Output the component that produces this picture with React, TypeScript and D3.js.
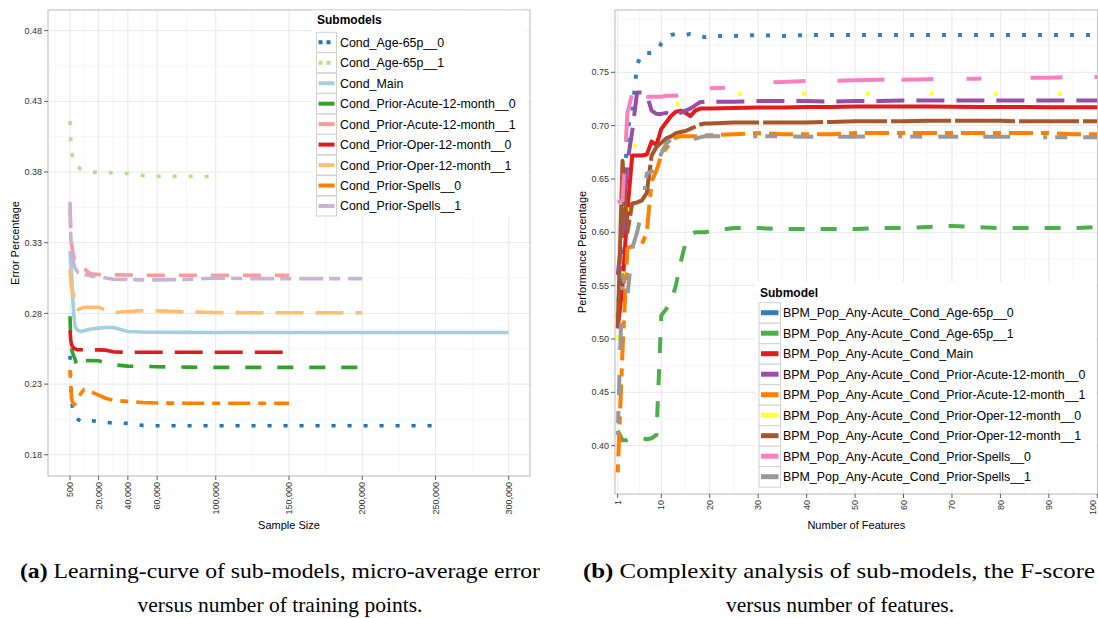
import React from 'react';
import * as d3 from 'd3';

// ---------- Left chart data (learning curve) ----------
const sampleSizes = [500, 1000, 1500, 2000, 3000, 4000, 5000, 6000, 8000, 10000, 12500, 15000, 20000, 25000, 30000, 40000, 50000, 60000, 80000, 100000, 125000, 150000, 175000, 200000, 225000, 250000, 275000, 300000];

const errAge0 = [0.25, 0.232, 0.222, 0.215, 0.209, 0.207, 0.206, 0.205, 0.2035, 0.204, 0.2042, 0.204, 0.2038, 0.203, 0.2025, 0.2022, 0.2008, 0.2005, 0.2005, 0.2005, 0.2005, 0.2005, 0.2005, 0.2005, 0.2005, 0.2005];
const errAge1 = [0.416, 0.403, 0.396, 0.392, 0.387, 0.385, 0.384, 0.3835, 0.382, 0.381, 0.3805, 0.38, 0.3798, 0.3797, 0.3795, 0.379, 0.3775, 0.377, 0.377, 0.3768];
const errMain = [0.324, 0.316, 0.309, 0.298, 0.28, 0.2705, 0.269, 0.268, 0.2672, 0.2678, 0.2685, 0.269, 0.2696, 0.27, 0.27, 0.2672, 0.2668, 0.2667, 0.2666, 0.2665, 0.2665, 0.2665, 0.2665, 0.2665, 0.2665, 0.2665, 0.2665, 0.2665];
const errAcute0 = [0.278, 0.262, 0.256, 0.253, 0.25, 0.2475, 0.2435, 0.2415, 0.244, 0.2465, 0.2466, 0.2466, 0.2465, 0.245, 0.2437, 0.2427, 0.2425, 0.2423, 0.242, 0.2418, 0.2418, 0.2418, 0.2418, 0.2418];
const errAcute1 = [0.353, 0.34, 0.33, 0.326, 0.32, 0.3167, 0.316, 0.3155, 0.3145, 0.312, 0.3095, 0.308, 0.3075, 0.3073, 0.3073, 0.3072, 0.307, 0.307, 0.307, 0.307, 0.307, 0.307];
const errOper0 = [0.268, 0.261, 0.258, 0.257, 0.2555, 0.255, 0.2545, 0.2543, 0.2543, 0.2543, 0.2543, 0.2542, 0.2542, 0.254, 0.2528, 0.2525, 0.2525, 0.2525, 0.2525, 0.2525, 0.2525, 0.2525];
const errOper1 = [0.311, 0.303, 0.299, 0.296, 0.293, 0.29, 0.2884, 0.2828, 0.2835, 0.2843, 0.2844, 0.2844, 0.2844, 0.282, 0.2805, 0.2813, 0.282, 0.2818, 0.281, 0.2806, 0.2805, 0.2805, 0.2805, 0.2805];
const errSpells0 = [0.24, 0.229, 0.221, 0.218, 0.2155, 0.216, 0.2178, 0.22, 0.2235, 0.2262, 0.2255, 0.2245, 0.2222, 0.22, 0.2185, 0.2178, 0.217, 0.2166, 0.2165, 0.2165, 0.2165, 0.2165];
const errSpells1 = [0.359, 0.335, 0.325, 0.32, 0.315, 0.312, 0.3105, 0.309, 0.3085, 0.308, 0.307, 0.3065, 0.306, 0.305, 0.3042, 0.304, 0.3037, 0.3037, 0.304, 0.305, 0.3046, 0.3046, 0.3046, 0.3046];

const leftNames = ['Cond_Age-65p__0', 'Cond_Age-65p__1', 'Cond_Main', 'Cond_Prior-Acute-12-month__0', 'Cond_Prior-Acute-12-month__1', 'Cond_Prior-Oper-12-month__0', 'Cond_Prior-Oper-12-month__1', 'Cond_Prior-Spells__0', 'Cond_Prior-Spells__1'];
const leftValues = [errAge0, errAge1, errMain, errAcute0, errAcute1, errOper0, errOper1, errSpells0, errSpells1];
const leftColors = ['#1f78b4', '#b2df8a', '#a6cee3', '#33a02c', '#fb9a99', '#e31a1c', '#fdbf6f', '#ff7f00', '#cab2d6'];
const leftDashes = ['4 12', '4 12', 'none', '16 16', '18 14', '28 12', '28 12', '8 8 22 8', '24 6 11 8'];

const sampleTicks = [500, 20000, 40000, 60000, 100000, 150000, 200000, 250000, 300000];
const errorTicks = [0.18, 0.23, 0.28, 0.33, 0.38, 0.43, 0.48];

// ---------- Right chart data (complexity analysis) ----------
const featureCounts = [1, 2, 3, 4, 5, 6, 7, 8, 9, 10, 11, 12, 13, 14, 15, 16, 17, 18, 19, 20, 25, 30, 35, 40, 45, 50, 55, 60, 65, 70, 75, 80, 85, 90, 95, 100];

const fAge0 = [0.52, 0.6, 0.697, 0.712, 0.757, 0.768, 0.768, 0.768, 0.769, 0.777, 0.781, 0.785, 0.786, 0.786, 0.785, 0.786, 0.785, 0.784, 0.783, 0.784, 0.784, 0.785, 0.784, 0.785, 0.785, 0.785, 0.785, 0.785, 0.785, 0.785, 0.785, 0.785, 0.785, 0.785, 0.785, 0.785];
const fAge1 = [0.414, 0.405, 0.405, 0.406, 0.407, 0.407, 0.406, 0.407, 0.41, 0.522, 0.528, 0.535, 0.55, 0.572, 0.59, 0.598, 0.6, 0.6, 0.6, 0.601, 0.604, 0.604, 0.603, 0.603, 0.603, 0.603, 0.604, 0.604, 0.605, 0.606, 0.605, 0.604, 0.604, 0.604, 0.604, 0.605];
const fMain = [0.51, 0.55, 0.62, 0.672, 0.672, 0.672, 0.673, 0.685, 0.682, 0.697, 0.703, 0.709, 0.713, 0.714, 0.712, 0.709, 0.714, 0.716, 0.716, 0.716, 0.7165, 0.717, 0.717, 0.7175, 0.7175, 0.718, 0.718, 0.718, 0.718, 0.7178, 0.7175, 0.7175, 0.7175, 0.7172, 0.7172, 0.7172];
const fAcute0 = [0.56, 0.6, 0.665, 0.695, 0.731, 0.731, 0.729, 0.714, 0.711, 0.711, 0.712, 0.71, 0.712, 0.712, 0.714, 0.716, 0.719, 0.722, 0.7225, 0.7225, 0.7225, 0.723, 0.723, 0.723, 0.7225, 0.723, 0.723, 0.7235, 0.7235, 0.7235, 0.7235, 0.7235, 0.7235, 0.7235, 0.7235, 0.7235];
const fAcute1 = [0.375, 0.49, 0.585, 0.587, 0.587, 0.589, 0.6, 0.648, 0.658, 0.672, 0.679, 0.684, 0.689, 0.69, 0.69, 0.69, 0.69, 0.69, 0.691, 0.691, 0.692, 0.693, 0.692, 0.692, 0.692, 0.693, 0.693, 0.693, 0.693, 0.693, 0.693, 0.693, 0.693, 0.693, 0.692, 0.692];
const fOper0 = [0.5, 0.557, 0.62, 0.672, 0.69, 0.7, 0.705, 0.709, 0.712, 0.714, 0.716, 0.718, 0.72, 0.722, 0.724, 0.726, 0.727, 0.728, 0.729, 0.73, 0.73, 0.73, 0.73, 0.73, 0.73, 0.73, 0.73, 0.73, 0.73, 0.73, 0.73, 0.73, 0.73, 0.73, 0.73, 0.73];
const fOper1 = [0.51, 0.667, 0.6, 0.627, 0.628, 0.63, 0.637, 0.672, 0.68, 0.684, 0.688, 0.69, 0.693, 0.694, 0.695, 0.697, 0.699, 0.701, 0.702, 0.702, 0.703, 0.703, 0.703, 0.703, 0.7035, 0.704, 0.704, 0.704, 0.7045, 0.7045, 0.7045, 0.7045, 0.704, 0.704, 0.704, 0.704];
const fSpells0 = [0.628, 0.63, 0.712, 0.73, 0.731, 0.728, 0.727, 0.727, 0.727, 0.727, 0.728, 0.728, 0.728, 0.729, 0.729, 0.73, 0.732, 0.734, 0.735, 0.735, 0.736, 0.74, 0.741, 0.742, 0.742, 0.7425, 0.743, 0.743, 0.7435, 0.744, 0.744, 0.7445, 0.745, 0.745, 0.7455, 0.7455];
const fSpells1 = [0.41, 0.56, 0.54, 0.585, 0.6, 0.62, 0.655, 0.657, 0.66, 0.674, 0.683, 0.687, 0.69, 0.69, 0.69, 0.687, 0.688, 0.689, 0.69, 0.69, 0.69, 0.69, 0.69, 0.6895, 0.6895, 0.6895, 0.69, 0.69, 0.6895, 0.6895, 0.6895, 0.6895, 0.6895, 0.689, 0.689, 0.689];

const rightNames = ['BPM_Pop_Any-Acute_Cond_Age-65p__0', 'BPM_Pop_Any-Acute_Cond_Age-65p__1', 'BPM_Pop_Any-Acute_Cond_Main', 'BPM_Pop_Any-Acute_Cond_Prior-Acute-12-month__0', 'BPM_Pop_Any-Acute_Cond_Prior-Acute-12-month__1', 'BPM_Pop_Any-Acute_Cond_Prior-Oper-12-month__0', 'BPM_Pop_Any-Acute_Cond_Prior-Oper-12-month__1', 'BPM_Pop_Any-Acute_Cond_Prior-Spells__0', 'BPM_Pop_Any-Acute_Cond_Prior-Spells__1'];
const rightValues = [fAge0, fAge1, fMain, fAcute0, fAcute1, fOper0, fOper1, fSpells0, fSpells1];
const rightColors = ['#377eb8', '#4daf4a', '#e41a1c', '#984ea3', '#ff7f00', '#ffff33', '#a65628', '#f781bf', '#999999'];
const rightDashes = ['4 12', '16 16', 'none', '28 12', '8 8 24 8', '4 60', '60 4', '32 32 47 17 32 33 15 49', '4 8 12 16 20 25 27 33'];

const featureTicks = [1, 10, 20, 30, 40, 50, 60, 70, 80, 90, 100];
const perfTicks = [0.4, 0.45, 0.5, 0.55, 0.6, 0.65, 0.7, 0.75];

const captionA1 = 'Learning-curve of sub-models, micro-average error';
const captionA2 = 'versus number of training points.';
const captionB1 = 'Complexity analysis of sub-models, the F-score';
const captionB2 = 'versus number of features.';

const FONT = "'Liberation Sans', Arial, Helvetica, sans-serif";
const SERIF = "'Liberation Serif', 'DejaVu Serif', serif";

function midpoints(arr: number[]) {
  const out: number[] = [];
  for (let i = 0; i < arr.length - 1; i++) out.push((arr[i] + arr[i + 1]) / 2);
  return out;
}

export default function App() {
  const W = 1098, H = 618;

  const xL = d3.scaleLinear().domain([-14520, 314540]).range([48, 530]);
  const yL = d3.scaleLinear().domain([0.165, 0.4946]).range([476, 10]);
  const xR = d3.scaleLinear().domain([0.443, 100.08]).range([615, 1097.7]);
  const yR = d3.scaleLinear().domain([0.3547, 0.8084]).range([494, 10]);

  const fmt = d3.format(',');
  const fmt2 = d3.format('.2f');

  const leftMinorX = [sampleTicks[0] - (sampleTicks[1] - sampleTicks[0]) / 2, ...midpoints(sampleTicks)];
  const leftMinorY = midpoints(errorTicks);
  const rightMinorX = midpoints(featureTicks);
  const rightMinorY = [...midpoints(perfTicks), 0.775, 0.8];

  const lineL = (vals: number[]) =>
    d3.line<number>().x((_, i) => xL(sampleSizes[i])).y((d) => yL(d))(vals) || '';
  const lineR = (vals: number[]) =>
    d3.line<number>().x((_, i) => xR(featureCounts[i])).y((d) => yR(d))(vals) || '';

  const [lx0, lx1] = xL.range();
  const [ly1, ly0] = yL.range();
  const [rx0, rx1] = xR.range();
  const [ry1, ry0] = yR.range();

  const majorGrid = '#e8e8e8';
  const minorGrid = '#f4f4f4';
  const border = '#c4c4c4';
  const tickCol = '#333333';

  const lLegX = 316.5, lLegY0 = 42.3, lLegStep = 20.46;
  const rLegX = 759, rLegY0 = 312.7, rLegStep = 20.5;
  const legFont = 12.4;

  return (
    <svg width={W} height={H} style={{ position: 'absolute', left: 0, top: 0, background: '#fff' }} fontFamily={FONT}>
      <rect x={0} y={0} width={W} height={H} fill="#fff" />

      {/* ================= LEFT PANEL ================= */}
      <g>
        {leftMinorY.map((v) => (
          <line key={'lmy' + v} x1={lx0} x2={lx1} y1={yL(v)} y2={yL(v)} stroke={minorGrid} strokeWidth={0.8} />
        ))}
        {leftMinorX.map((v) => (
          <line key={'lmx' + v} x1={xL(v)} x2={xL(v)} y1={ly0} y2={ly1} stroke={minorGrid} strokeWidth={0.8} />
        ))}
        {errorTicks.map((v) => (
          <line key={'lgy' + v} x1={lx0} x2={lx1} y1={yL(v)} y2={yL(v)} stroke={majorGrid} strokeWidth={1} />
        ))}
        {sampleTicks.map((v) => (
          <line key={'lgx' + v} x1={xL(v)} x2={xL(v)} y1={ly0} y2={ly1} stroke={majorGrid} strokeWidth={1} />
        ))}

        {leftValues.map((vals, i) => (
          <path key={'ls' + i} d={lineL(vals)} fill="none" stroke={leftColors[i]} strokeWidth={3.6}
            strokeDasharray={leftDashes[i]} strokeLinecap="butt" strokeLinejoin="round" />
        ))}

        <rect x={lx0} y={ly0} width={lx1 - lx0} height={ly1 - ly0} fill="none" stroke={border} strokeWidth={1.2} />

        {errorTicks.map((v) => (
          <g key={'lyt' + v}>
            <line x1={lx0 - 4} x2={lx0} y1={yL(v)} y2={yL(v)} stroke={tickCol} strokeWidth={0.8} />
            <text x={lx0 - 6} y={yL(v)} dy="0.35em" textAnchor="end" fontSize={9} fill={tickCol}>{fmt2(v)}</text>
          </g>
        ))}
        {sampleTicks.map((v) => (
          <g key={'lxt' + v}>
            <line x1={xL(v)} x2={xL(v)} y1={ly1} y2={ly1 + 4} stroke={tickCol} strokeWidth={0.8} />
            <text transform={`translate(${xL(v)},${ly1 + 6}) rotate(-90)`} dy="0.35em" textAnchor="end" fontSize={9} fill={tickCol}>{fmt(v)}</text>
          </g>
        ))}
        <text x={(lx0 + lx1) / 2} y={529} textAnchor="middle" fontSize={11} fill="#000">Sample Size</text>
        <text transform={`translate(19,${(ly0 + ly1) / 2}) rotate(-90)`} textAnchor="middle" fontSize={11} fill="#000">Error Percentage</text>

        <rect x={312} y={10.5} width={215} height={206} fill="#fff" />
        <text x={317} y={24} fontSize={12} fontWeight="bold" fill="#000">Submodels</text>
        {leftNames.map((n, i) => {
          const cy = lLegY0 + i * lLegStep;
          return (
            <g key={'ll' + i}>
              <rect x={lLegX} y={cy - 10} width={20} height={20} fill="#fff" stroke="#d0d0d0" strokeWidth={1} />
              <line x1={lLegX + 2} x2={lLegX + 18} y1={cy} y2={cy} stroke={leftColors[i]} strokeWidth={4}
                strokeDasharray={leftDashes[i] === '4 12' ? '4 4' : 'none'} />
              <text x={lLegX + 23.5} y={cy} dy="0.36em" fontSize={legFont} fill="#000">{n}</text>
            </g>
          );
        })}
      </g>

      {/* ================= RIGHT PANEL ================= */}
      <g>
        {rightMinorY.map((v) => (
          <line key={'rmy' + v} x1={rx0} x2={rx1} y1={yR(v)} y2={yR(v)} stroke={minorGrid} strokeWidth={0.8} />
        ))}
        {rightMinorX.map((v) => (
          <line key={'rmx' + v} x1={xR(v)} x2={xR(v)} y1={ry0} y2={ry1} stroke={minorGrid} strokeWidth={0.8} />
        ))}
        {perfTicks.map((v) => (
          <line key={'rgy' + v} x1={rx0} x2={rx1} y1={yR(v)} y2={yR(v)} stroke={majorGrid} strokeWidth={1} />
        ))}
        {featureTicks.map((v) => (
          <line key={'rgx' + v} x1={xR(v)} x2={xR(v)} y1={ry0} y2={ry1} stroke={majorGrid} strokeWidth={1} />
        ))}

        {rightValues.map((vals, i) => (
          <path key={'rs' + i} d={lineR(vals)} fill="none" stroke={rightColors[i]} strokeWidth={4}
            strokeDasharray={rightDashes[i]} strokeLinecap="butt" strokeLinejoin="round" />
        ))}

        <rect x={rx0} y={ry0} width={rx1 - rx0} height={ry1 - ry0} fill="none" stroke={border} strokeWidth={1.2} />

        {perfTicks.map((v) => (
          <g key={'ryt' + v}>
            <line x1={rx0 - 4} x2={rx0} y1={yR(v)} y2={yR(v)} stroke={tickCol} strokeWidth={0.8} />
            <text x={rx0 - 6} y={yR(v)} dy="0.35em" textAnchor="end" fontSize={9} fill={tickCol}>{fmt2(v)}</text>
          </g>
        ))}
        {featureTicks.map((v) => {
          const tx = Math.min(xR(v), W - 5);
          return (
            <g key={'rxt' + v}>
              <line x1={xR(v)} x2={xR(v)} y1={ry1} y2={ry1 + 4} stroke={tickCol} strokeWidth={0.8} />
              <text transform={`translate(${tx},${ry1 + 6}) rotate(-90)`} dy="0.35em" textAnchor="end" fontSize={9} fill={tickCol}>{String(v)}</text>
            </g>
          );
        })}
        <text x={(rx0 + rx1) / 2} y={529} textAnchor="middle" fontSize={11} fill="#000">Number of Features</text>
        <text transform={`translate(586,${(ry0 + ry1) / 2}) rotate(-90)`} textAnchor="middle" fontSize={11} fill="#000">Performance Percentage</text>

        <rect x={755} y={282} width={341} height={207} fill="#fff" />
        <text x={760} y={297} fontSize={12} fontWeight="bold" fill="#000">Submodel</text>
        {rightNames.map((n, i) => {
          const cy = rLegY0 + i * rLegStep;
          return (
            <g key={'rl' + i}>
              <rect x={rLegX} y={cy - 10} width={21.5} height={20.5} fill="#fff" stroke="#d0d0d0" strokeWidth={1} />
              <line x1={rLegX + 2} x2={rLegX + 19.5} y1={cy} y2={cy} stroke={rightColors[i]} strokeWidth={5} />
              <text x={rLegX + 24} y={cy} dy="0.36em" fontSize={legFont} fill="#000">{n}</text>
            </g>
          );
        })}
      </g>

      {/* ================= CAPTIONS ================= */}
      <g fontFamily={SERIF} fontSize={21.5} fill="#000">
        <text x={20} y={578} textLength={520} lengthAdjust="spacingAndGlyphs">
          <tspan fontWeight="bold">(a)</tspan> {captionA1}
        </text>
        <text x={280} y={612} textAnchor="middle">{captionA2}</text>
        <text x={583} y={578} textLength={512} lengthAdjust="spacingAndGlyphs">
          <tspan fontWeight="bold">(b)</tspan> {captionB1}
        </text>
        <text x={840} y={612} textAnchor="middle">{captionB2}</text>
      </g>
    </svg>
  );
}
